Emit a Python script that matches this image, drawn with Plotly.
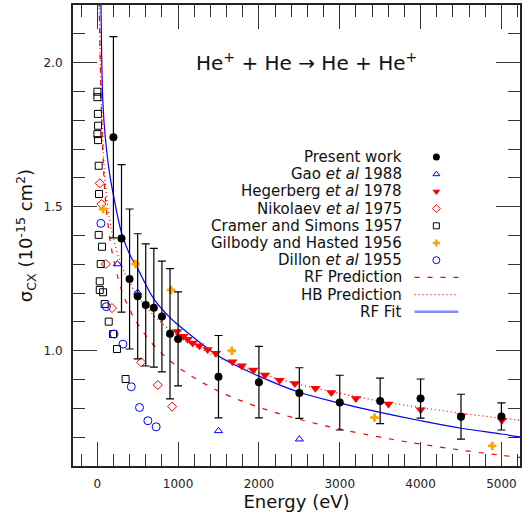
import plotly.graph_objects as go

# ---------------- data ----------------
pw_E = [200, 300, 400, 500, 600, 700, 800, 900, 1000, 1500, 2000, 2500, 3000, 3500, 4000, 4500, 5000]
pw_s = [1.741, 1.390, 1.249, 1.189, 1.159, 1.149, 1.119, 1.059, 1.041, 0.910, 0.891, 0.853, 0.820, 0.826, 0.834, 0.771, 0.772]
pw_err = [0.349, 0.256, 0.243, 0.217, 0.212, 0.206, 0.192, 0.226, 0.163, 0.143, 0.124, 0.088, 0.095, 0.079, 0.068, 0.078, 0.047]

gao_E = [250, 500, 1500, 2500]
gao_s = [1.301, 1.202, 0.722, 0.693]

heg_E = [990, 1065, 1118, 1180, 1262, 1365, 1468, 1672, 1788, 1931, 2075, 2256, 2445, 2699, 2896, 3200, 3602, 4000, 4505, 5006]
heg_s = [1.067, 1.050, 1.040, 1.027, 1.017, 1.004, 0.991, 0.962, 0.948, 0.933, 0.916, 0.898, 0.886, 0.870, 0.855, 0.834, 0.815, 0.795, 0.774, 0.759]

nik_E = [31, 52, 105, 182, 544, 749, 926]
nik_s = [1.581, 1.509, 1.301, 1.148, 0.960, 0.881, 0.806]

cra_E = [2, 2, 8, 10, 2, 10, 18, 22, 18, 59, 43, 31, 31, 72, 92, 142, 195, 244, 351]
cra_s = [1.899, 1.880, 1.822, 1.781, 1.752, 1.731, 1.642, 1.544, 1.402, 1.361, 1.301, 1.241, 1.211, 1.203, 1.162, 1.101, 1.058, 1.006, 0.902]

gil_E = [72, 474, 913, 1665, 3430, 4887]
gil_s = [1.492, 1.301, 1.211, 1.000, 0.768, 0.670]

dil_E = [45, 113, 207, 318, 421, 523, 626, 729]
dil_s = [1.442, 1.153, 1.058, 1.023, 0.875, 0.803, 0.757, 0.736]

curve_E = [20, 30, 45, 60, 80, 100, 150, 200, 300, 400, 500, 700, 1000, 1500, 2000, 2500, 3000, 3500, 4000, 4500, 5000, 5250]
rf_pred = [2.30, 2.10, 1.90, 1.76, 1.62, 1.53, 1.40, 1.32, 1.211, 1.144, 1.093, 1.019, 0.943, 0.860, 0.804, 0.762, 0.728, 0.700, 0.676, 0.655, 0.637, 0.629]
hb_pred = [2.30, 2.12, 1.93, 1.80, 1.67, 1.58, 1.46, 1.39, 1.296, 1.236, 1.190, 1.122, 1.052, 0.976, 0.923, 0.883, 0.852, 0.825, 0.803, 0.783, 0.766, 0.758]

fit_E = [45, 55, 70, 100, 150, 200, 300, 400, 500, 700, 900, 1000, 1500, 2000, 2500, 3000, 3500, 4000, 4500, 5000, 5250]
fit_s = [2.22, 2.02, 1.86, 1.74, 1.62, 1.54, 1.41, 1.335, 1.285, 1.18, 1.115, 1.09, 0.982, 0.912, 0.856, 0.818, 0.786, 0.757, 0.731, 0.711, 0.700]

legend_labels = ["Present work", "Gao <i>et al</i> 1988", "Hegerberg <i>et al</i> 1978",
                 "Nikolaev <i>et al</i> 1975", "Cramer and Simons 1957",
                 "Gilbody and Hasted 1956", "Dillon <i>et al</i> 1955",
                 "RF Prediction", "HB Prediction", "RF Fit"]

FONT = "DejaVu Sans"
RED = "#ff0000"
BLUE = "#0000ff"
ORANGE = "#ffa500"

# marker styles for each data set
styles = [
    dict(symbol="circle", size=8, color="black", line=dict(width=0)),
    dict(symbol="triangle-up-open", size=7, color=BLUE, line=dict(width=1)),
    dict(symbol="triangle-down", size=9, color=RED, line=dict(width=0)),
    dict(symbol="diamond-open", size=7, color=RED, line=dict(width=1)),
    dict(symbol="square-open", size=7, color="black", line=dict(width=1)),
    dict(symbol="cross", size=7, color=ORANGE, line=dict(width=0)),
    dict(symbol="circle-open", size=8, color=BLUE, line=dict(width=1)),
]
legend_sizes = [7, 6, 7, 6, 6, 6, 7]
line_styles = [
    dict(color=RED, width=1.2, dash="5px,8px"),
    dict(color=RED, width=1.2, dash="1px,3px"),
    dict(color=BLUE, width=1.2),
]

fig = go.Figure()

# theory curves
fig.add_trace(go.Scatter(x=curve_E, y=rf_pred, mode="lines", line=dict(**line_styles[0], shape="spline"), showlegend=False))
fig.add_trace(go.Scatter(x=curve_E, y=hb_pred, mode="lines", line=dict(**line_styles[1], shape="spline"), showlegend=False))
fig.add_trace(go.Scatter(x=fit_E, y=fit_s, mode="lines", line=dict(**line_styles[2], shape="spline"), showlegend=False))

# experimental sets
sets = [(gao_E, gao_s), (heg_E, heg_s), (nik_E, nik_s), (cra_E, cra_s), (gil_E, gil_s), (dil_E, dil_s)]
for (ex, ey), st in zip(sets, styles[1:]):
    fig.add_trace(go.Scatter(x=ex, y=ey, mode="markers", marker=st, showlegend=False))

fig.add_trace(go.Scatter(
    x=pw_E, y=pw_s, mode="markers", marker=styles[0], showlegend=False,
    error_y=dict(type="data", array=pw_err, visible=True, color="black", thickness=1.2, width=4)))

# ---------------- custom legend (text left, symbol right) ----------------
plot_l, plot_r, plot_t, plot_b = 73, 522, 5, 466
def px_to_paper(xp, yp):
    return (xp - plot_l) / (plot_r - plot_l), 1 - (yp - plot_t) / (plot_b - plot_t)

row0, row_step = 157, 17.2
text_x, sym_x, line_x0, line_x1 = 405, 438, 416, 460
for i, lab in enumerate(legend_labels):
    yp = row0 + i * row_step
    tx, ty = px_to_paper(text_x, yp)
    fig.add_annotation(x=tx, y=ty, xref="paper", yref="paper", text=lab, showarrow=False,
                       xanchor="right", yanchor="middle", font=dict(family=FONT, size=15, color="#111"))
    if i < 7:
        sx, sy = px_to_paper(sym_x, yp)
        st = dict(styles[i])
        st["size"] = legend_sizes[i]
        fig.add_trace(go.Scatter(x=[sx], y=[sy], mode="markers", marker=st, xaxis="x2", yaxis="y2",
                                 showlegend=False, hoverinfo="skip"))
    else:
        x0, y0 = px_to_paper(line_x0, yp)
        x1, _ = px_to_paper(line_x1, yp)
        ls = dict(line_styles[i - 7])
        if i == 9:
            ls = dict(color="rgba(60,60,255,0.6)", width=2.5)
        fig.add_trace(go.Scatter(x=[x0, x1], y=[y0, y0], mode="lines", line=ls, xaxis="x2", yaxis="y2",
                                 showlegend=False, hoverinfo="skip"))

# reaction label
tx, ty = px_to_paper(308, 62)
fig.add_annotation(x=tx, y=ty, xref="paper", yref="paper",
                   text="He<sup>+</sup> + He \u2192 He + He<sup>+</sup>", showarrow=False,
                   xanchor="center", yanchor="middle", font=dict(family=FONT, size=20, color="#111"))

axis_common = dict(
    showline=True, linecolor="#222", linewidth=2, mirror="ticks",
    ticks="inside", ticklen=24, tickwidth=1.3, tickcolor="#333",
    showgrid=False, zeroline=False,
    tickfont=dict(family=FONT, size=12, color="#222"),
    ticklabelstandoff=6,
)

fig.update_layout(
    width=523, height=512,
    margin=dict(l=plot_l, r=523 - plot_r, t=plot_t, b=512 - plot_b),
    paper_bgcolor="white", plot_bgcolor="white",
    font=dict(family=FONT, color="#111"),
    showlegend=False,
    xaxis=dict(range=[-300, 5230], tick0=0, dtick=1000,
               minor=dict(dtick=200, ticklen=12, tickwidth=1.3, tickcolor="#333", ticks="inside"),
               title=dict(text="Energy (eV)", font=dict(family=FONT, size=18, color="#111"), standoff=0),
               **axis_common),
    yaxis=dict(range=[0.6, 2.2], tick0=0, dtick=0.5, tickformat=".1f",
               minor=dict(dtick=0.1, ticklen=12, tickwidth=1.3, tickcolor="#333", ticks="inside"),
               title=dict(text="\u03c3<sub>CX</sub> (10<sup>-15</sup> cm<sup>2</sup>)",
                          font=dict(family=FONT, size=18, color="#111"), standoff=6),
               **axis_common),
    xaxis2=dict(overlaying="x", range=[0, 1], visible=False, anchor="y2"),
    yaxis2=dict(overlaying="y", range=[0, 1], visible=False, anchor="x2"),
)

fig.write_html("out.html")
